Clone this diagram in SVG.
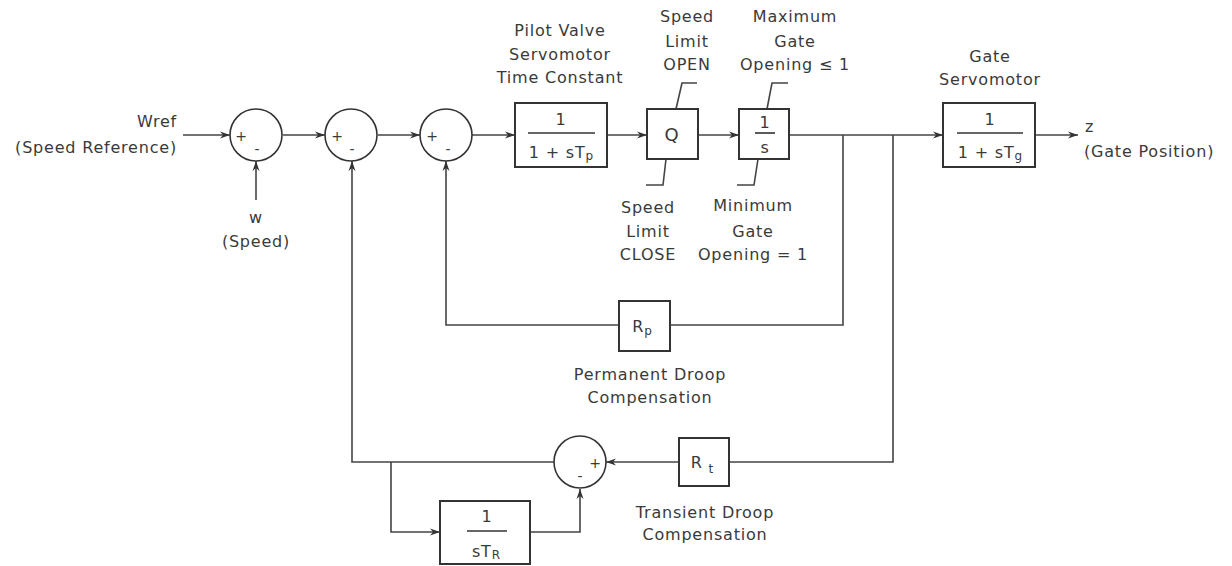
<svg xmlns="http://www.w3.org/2000/svg" width="1232" height="566" viewBox="0 0 1232 566">
<defs>
<marker id="arr" viewBox="0 0 10 8" refX="10" refY="4" markerWidth="10" markerHeight="8" markerUnits="userSpaceOnUse" orient="auto">
<path d="M0,0.5 L10,4 L0,7.5 L3,4 Z" fill="#333"/>
</marker>
<style>
text{font-family:"DejaVu Sans","Liberation Sans",sans-serif;fill:#3a3a3a;font-size:16px;letter-spacing:0.8px}
.c{text-anchor:middle}
.e{text-anchor:end}
.blk{fill:#fff;stroke:#333;stroke-width:2}
.sum{fill:#fff;stroke:#333;stroke-width:1.6}
.ln{fill:none;stroke:#444;stroke-width:1.6}
.fl{stroke:#333;stroke-width:1.6}
.big{font-size:18px}
.sub{font-size:12px;letter-spacing:0}
.sg{font-size:14px;letter-spacing:0}
</style>
</defs>
<rect width="1232" height="566" fill="#fff"/>
<g id="connectors" class="ln">
<line x1="183" y1="135" x2="230" y2="135" marker-end="url(#arr)"/>
<line x1="256" y1="200" x2="256" y2="161" marker-end="url(#arr)"/>
<line x1="283" y1="135" x2="325" y2="135" marker-end="url(#arr)"/>
<line x1="378" y1="135" x2="420" y2="135" marker-end="url(#arr)"/>
<line x1="472" y1="135" x2="515" y2="135" marker-end="url(#arr)"/>
<line x1="607" y1="135" x2="647" y2="135" marker-end="url(#arr)"/>
<line x1="698" y1="135" x2="739" y2="135" marker-end="url(#arr)"/>
<line x1="789" y1="135" x2="943" y2="135" marker-end="url(#arr)"/>
<line x1="1035" y1="135" x2="1078" y2="135" marker-end="url(#arr)"/>
<polyline points="843,135 843,325 670,325"/>
<polyline points="619,325 446,325 446,161" marker-end="url(#arr)"/>
<polyline points="893,135 893,462 729,462"/>
<line x1="679" y1="462" x2="606" y2="462" marker-end="url(#arr)"/>
<polyline points="554,462 352,462 352,161" marker-end="url(#arr)"/>
<polyline points="391,462 391,532 440,532" marker-end="url(#arr)"/>
<polyline points="530,532 580,532 580,489" marker-end="url(#arr)"/>
<polyline points="676,109 682,83 697,83"/>
<polyline points="666,159 663,185 646,185"/>
<polyline points="767,109 772,83 788,83"/>
<polyline points="758,159 754,185 737,185"/>
</g>
<g id="sum1"><circle class="sum" cx="256" cy="135" r="26"/><text x="241" y="141" class="c sg">+</text><text x="257" y="154" class="c sg">-</text></g>
<g id="sum2"><circle class="sum" cx="351" cy="135" r="26"/><text x="337" y="141" class="c sg">+</text><text x="352" y="154" class="c sg">-</text></g>
<g id="sum3"><circle class="sum" cx="446" cy="135" r="26"/><text x="432" y="141" class="c sg">+</text><text x="448" y="154" class="c sg">-</text></g>
<g id="sum4"><circle class="sum" cx="580" cy="462" r="26"/><text x="595" y="468" class="c sg">+</text><text x="580" y="481" class="c sg">-</text></g>
<g id="input"><text x="177" y="127" class="e">Wref</text><text x="177" y="153" class="e">(Speed Reference)</text></g>
<g id="speed"><text x="256" y="223" class="c">w</text><text x="256" y="247" class="c">(Speed)</text></g>
<g id="pilot">
<rect class="blk" x="515" y="103" width="92" height="64"/>
<text x="561" y="125" class="c">1</text>
<line class="fl" x1="528" y1="133" x2="595" y2="133"/>
<text x="561" y="158" class="c">1 + sT<tspan class="sub" dy="2">p</tspan></text>
<text x="560" y="36" class="c">Pilot Valve</text>
<text x="560" y="60" class="c">Servomotor</text>
<text x="560" y="83" class="c">Time Constant</text>
</g>
<g id="q">
<rect class="blk" x="647" y="109" width="51" height="50"/>
<text x="672" y="141" class="c big">Q</text>
<text x="687" y="22" class="c">Speed</text><text x="687" y="47" class="c">Limit</text><text x="687" y="70" class="c">OPEN</text>
<text x="648" y="213" class="c">Speed</text><text x="648" y="237" class="c">Limit</text><text x="648" y="260" class="c">CLOSE</text>
</g>
<g id="integrator">
<rect class="blk" x="739" y="109" width="50" height="50"/>
<text x="765" y="128" class="c">1</text>
<line class="fl" x1="755" y1="133" x2="775" y2="133"/>
<text x="765" y="153" class="c">s</text>
<text x="795" y="22" class="c">Maximum</text><text x="795" y="47" class="c">Gate</text><text x="795" y="70" class="c">Opening ≤ 1</text>
<text x="753" y="211" class="c">Minimum</text><text x="753" y="237" class="c">Gate</text><text x="753" y="260" class="c">Opening = 1</text>
</g>
<g id="gate">
<rect class="blk" x="943" y="103" width="92" height="64"/>
<text x="990" y="125" class="c">1</text>
<line class="fl" x1="957" y1="133" x2="1023" y2="133"/>
<text x="990" y="158" class="c">1 + sT<tspan class="sub" dy="2">g</tspan></text>
<text x="990" y="62" class="c">Gate</text>
<text x="990" y="85" class="c">Servomotor</text>
</g>
<g id="output"><text x="1085" y="132">z</text><text x="1084" y="157">(Gate Position)</text></g>
<g id="rp">
<rect class="blk" x="619" y="301" width="51" height="50"/>
<text x="642" y="332" class="c">R<tspan class="sub" dy="3">p</tspan></text>
<text x="650" y="380" class="c">Permanent Droop</text>
<text x="650" y="403" class="c">Compensation</text>
</g>
<g id="rt">
<rect class="blk" x="679" y="438" width="50" height="48"/>
<text x="702" y="468" class="c">R <tspan class="sub" dy="5">t</tspan></text>
<text x="705" y="518" class="c">Transient Droop</text>
<text x="705" y="540" class="c">Compensation</text>
</g>
<g id="tr">
<rect class="blk" x="440" y="501" width="90" height="63"/>
<text x="487" y="522" class="c">1</text>
<line class="fl" x1="467" y1="531" x2="507" y2="531"/>
<text x="486" y="557" class="c">sT<tspan class="sub" dy="2">R</tspan></text>
</g>
</svg>
